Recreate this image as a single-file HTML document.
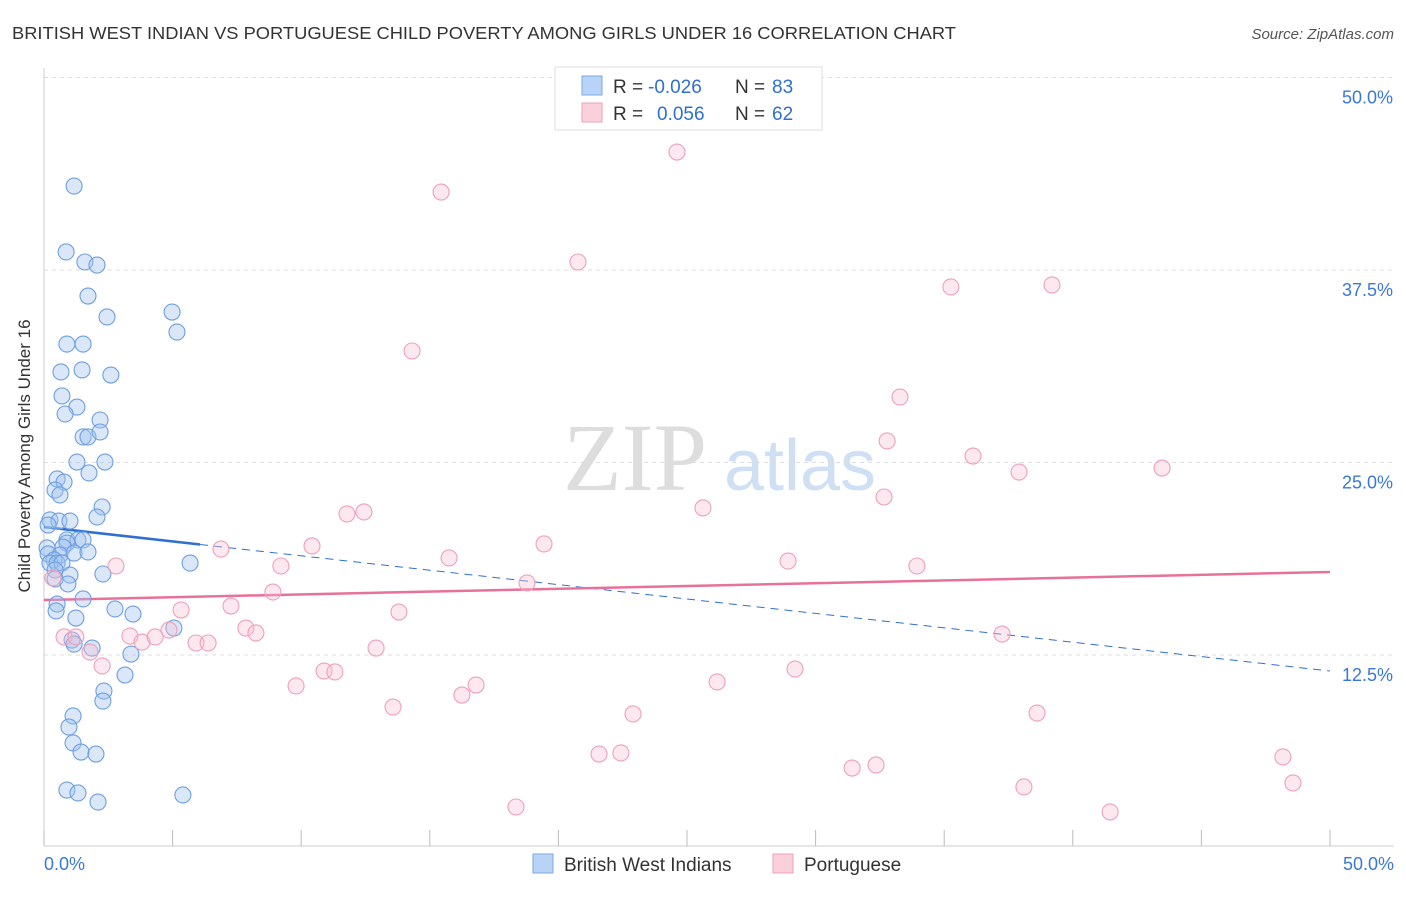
<!DOCTYPE html>
<html><head><meta charset="utf-8"><style>
body{margin:0;background:#fff;font-family:"Liberation Sans",sans-serif;}
</style></head><body>
<svg id="c" width="1406" height="892" xmlns="http://www.w3.org/2000/svg" style="font-family:'Liberation Sans',sans-serif">
<text x="12" y="39" font-size="17.5" fill="#333" textLength="944" lengthAdjust="spacingAndGlyphs">BRITISH WEST INDIAN VS PORTUGUESE CHILD POVERTY AMONG GIRLS UNDER 16 CORRELATION CHART</text>
<text x="1394" y="39" font-size="15" fill="#555" font-style="italic" text-anchor="end">Source: ZipAtlas.com</text>
<text x="30" y="456" font-size="17" fill="#333" text-anchor="middle" transform="rotate(-90 30 456)">Child Poverty Among Girls Under 16</text>
<g><text x="635" y="490" font-size="96" fill="#ddd" font-family="Liberation Serif,serif" text-anchor="middle">ZIP</text><text x="800" y="490" font-size="72" fill="#cfe0f4" text-anchor="middle">atlas</text></g>
<g id="grid"></g><g id="axes"></g><g id="trend"></g><g id="pts"></g>
<g>
<rect x="555" y="67" width="267" height="63" fill="#fff" stroke="#ddd"/>
<rect x="582" y="76" width="20" height="19" fill="#b8d3f5" stroke="#7aa8e0"/>
<rect x="582" y="103" width="20" height="19" fill="#fad0dc" stroke="#eea0b8"/>
<text x="613" y="93" font-size="19" fill="#333">R =</text>
<text x="648" y="93" font-size="19" fill="#2f6fd0">-0.026</text>
<text x="735" y="93" font-size="19" fill="#333">N =</text>
<text x="772" y="93" font-size="19" fill="#2f6fd0">83</text>
<text x="613" y="120" font-size="19" fill="#333">R =</text>
<text x="657" y="120" font-size="19" fill="#2f6fd0">0.056</text>
<text x="735" y="120" font-size="19" fill="#333">N =</text>
<text x="772" y="120" font-size="19" fill="#2f6fd0">62</text>
</g>
<g>
<rect x="533" y="854" width="20" height="19" fill="#b8d3f5" stroke="#7aa8e0"/>
<text x="564" y="871" font-size="19" fill="#333">British West Indians</text>
<rect x="773" y="854" width="20" height="19" fill="#fad0dc" stroke="#eea0b8"/>
<text x="804" y="871" font-size="19" fill="#333">Portuguese</text>
</g>
</svg>
<script>
const blueX=[1.17,0.86,1.59,2.06,1.71,2.45,4.98,5.17,0.89,1.52,0.66,1.48,2.60,0.70,1.28,0.82,2.18,1.52,1.71,2.18,1.28,2.37,1.75,0.51,0.78,0.43,0.62,2.26,2.06,0.23,0.58,1.01,0.16,0.89,1.32,1.52,0.12,0.89,0.74,0.16,0.62,1.17,1.71,0.39,0.23,0.51,0.70,5.68,0.43,1.01,2.29,0.43,0.93,1.52,0.51,2.76,3.46,0.47,1.24,5.05,1.09,1.17,1.87,3.38,3.15,2.33,2.29,1.13,0.97,1.13,1.44,2.02,0.89,1.32,2.10,5.40];
const blueY=[42.95,38.67,38.02,37.82,35.81,34.45,34.77,33.47,32.69,32.69,30.88,31.01,30.68,29.32,28.60,28.15,27.76,26.66,26.66,26.98,25.03,25.03,24.32,23.93,23.73,23.21,22.89,22.11,21.46,21.27,21.20,21.20,20.94,19.97,19.97,19.97,19.45,19.77,19.51,19.06,18.99,19.12,19.19,18.67,18.47,18.47,18.47,18.47,18.02,17.69,17.76,17.44,17.11,16.14,15.81,15.49,15.16,15.36,14.90,14.25,13.47,13.21,12.95,12.56,11.20,10.16,9.51,8.54,7.82,6.79,6.20,6.07,3.73,3.54,2.95,3.41];
const pinkX=[24.61,15.44,20.76,35.26,39.19,14.31,33.28,32.78,36.12,37.91,43.47,32.66,25.62,11.78,12.44,19.44,10.42,6.88,15.75,28.93,2.80,9.21,33.94,18.78,0.35,8.90,7.27,5.33,13.80,7.85,8.24,4.86,3.34,3.81,4.32,5.91,6.38,0.78,1.24,1.79,12.91,37.25,2.26,10.89,11.31,29.20,9.80,16.80,16.25,26.17,13.57,22.90,38.61,21.58,22.43,32.35,31.42,48.17,38.10,48.56,18.35,41.45];
const pinkY=[45.16,42.56,38.02,36.40,36.53,32.24,29.25,26.40,25.42,24.38,24.64,22.76,22.05,21.66,21.79,19.71,19.58,19.38,18.80,18.60,18.28,18.28,18.28,17.18,17.50,16.59,15.68,15.42,15.29,14.25,13.93,14.12,13.73,13.34,13.67,13.28,13.28,13.67,13.67,12.69,12.95,13.86,11.79,11.46,11.40,11.59,10.49,10.55,9.90,10.75,9.12,8.67,8.73,6.07,6.14,5.36,5.16,5.88,3.93,4.19,2.63,2.31];
const yTicks=[12.5,25,37.5,50];
const blueTrend=[20.81,11.46];
const pinkTrend=[16.07,17.89];
const blueSolidEnd=6.07;
const NS="http://www.w3.org/2000/svg";
const X=v=>44+v*25.72, Y=v=>847.5-v*15.4;
function mk(t,a,p){const e=document.createElementNS(NS,t);for(const k in a)e.setAttribute(k,a[k]);document.getElementById(p).appendChild(e);return e;}
yTicks.forEach(t=>{
 const g=mk('line',{x1:44,x2:1394,y1:Y(t),y2:Y(t),stroke:'#ddd','stroke-dasharray':'4,4'},'grid');
 
 
 const l=mk('text',{x:1393,y:Y(t)+26,'font-size':18,fill:'#3a78d8','text-anchor':'end'},'grid');
 l.textContent=t.toFixed(1)+'%';
 
 
});
const ax=mk('line',{x1:44,x2:44,y1:68,y2:846,stroke:'#ccc'},'axes');


const bx=mk('line',{x1:44,x2:1394,y1:846,y2:846,stroke:'#ccc'},'axes');


for(let i=0;i<=10;i++){const t=mk('line',{x1:X(i*5),x2:X(i*5),y1:830,y2:846,stroke:'#bbb'},'axes');
 
 }
const x0=mk('text',{x:44,y:870,'font-size':18,fill:'#3a78d8'},'axes');x0.textContent='0.0%';


const x1=mk('text',{x:1394,y:870,'font-size':18,fill:'#3a78d8','text-anchor':'end'},'axes');x1.textContent='50.0%';


const bt=v=>blueTrend[0]+(blueTrend[1]-blueTrend[0])*v/50;
const b1=mk('line',{x1:X(0),y1:Y(bt(0)),x2:X(blueSolidEnd),y2:Y(bt(blueSolidEnd)),stroke:'#2f6fd0','stroke-width':2.5},'trend');


const b2=mk('line',{x1:X(blueSolidEnd),y1:Y(bt(blueSolidEnd)),x2:X(50),y2:Y(bt(50)),stroke:'#2f6fd0','stroke-width':1,'stroke-dasharray':'8,6'},'trend');


const p1=mk('line',{x1:X(0),y1:Y(pinkTrend[0]),x2:X(50),y2:Y(pinkTrend[1]),stroke:'#e8719a','stroke-width':2.5},'trend');


blueX.forEach((v,i)=>{const c=mk('circle',{cx:X(v),cy:Y(blueY[i]),r:8,fill:'rgba(160,196,240,0.4)',stroke:'#6e9fe0','stroke-width':1.1},'pts');
 
 });
pinkX.forEach((v,i)=>{const c=mk('circle',{cx:X(v),cy:Y(pinkY[i]),r:8,fill:'rgba(248,190,208,0.35)',stroke:'#eea0b8','stroke-width':1.1},'pts');
 
 });
</script>
</body></html>
